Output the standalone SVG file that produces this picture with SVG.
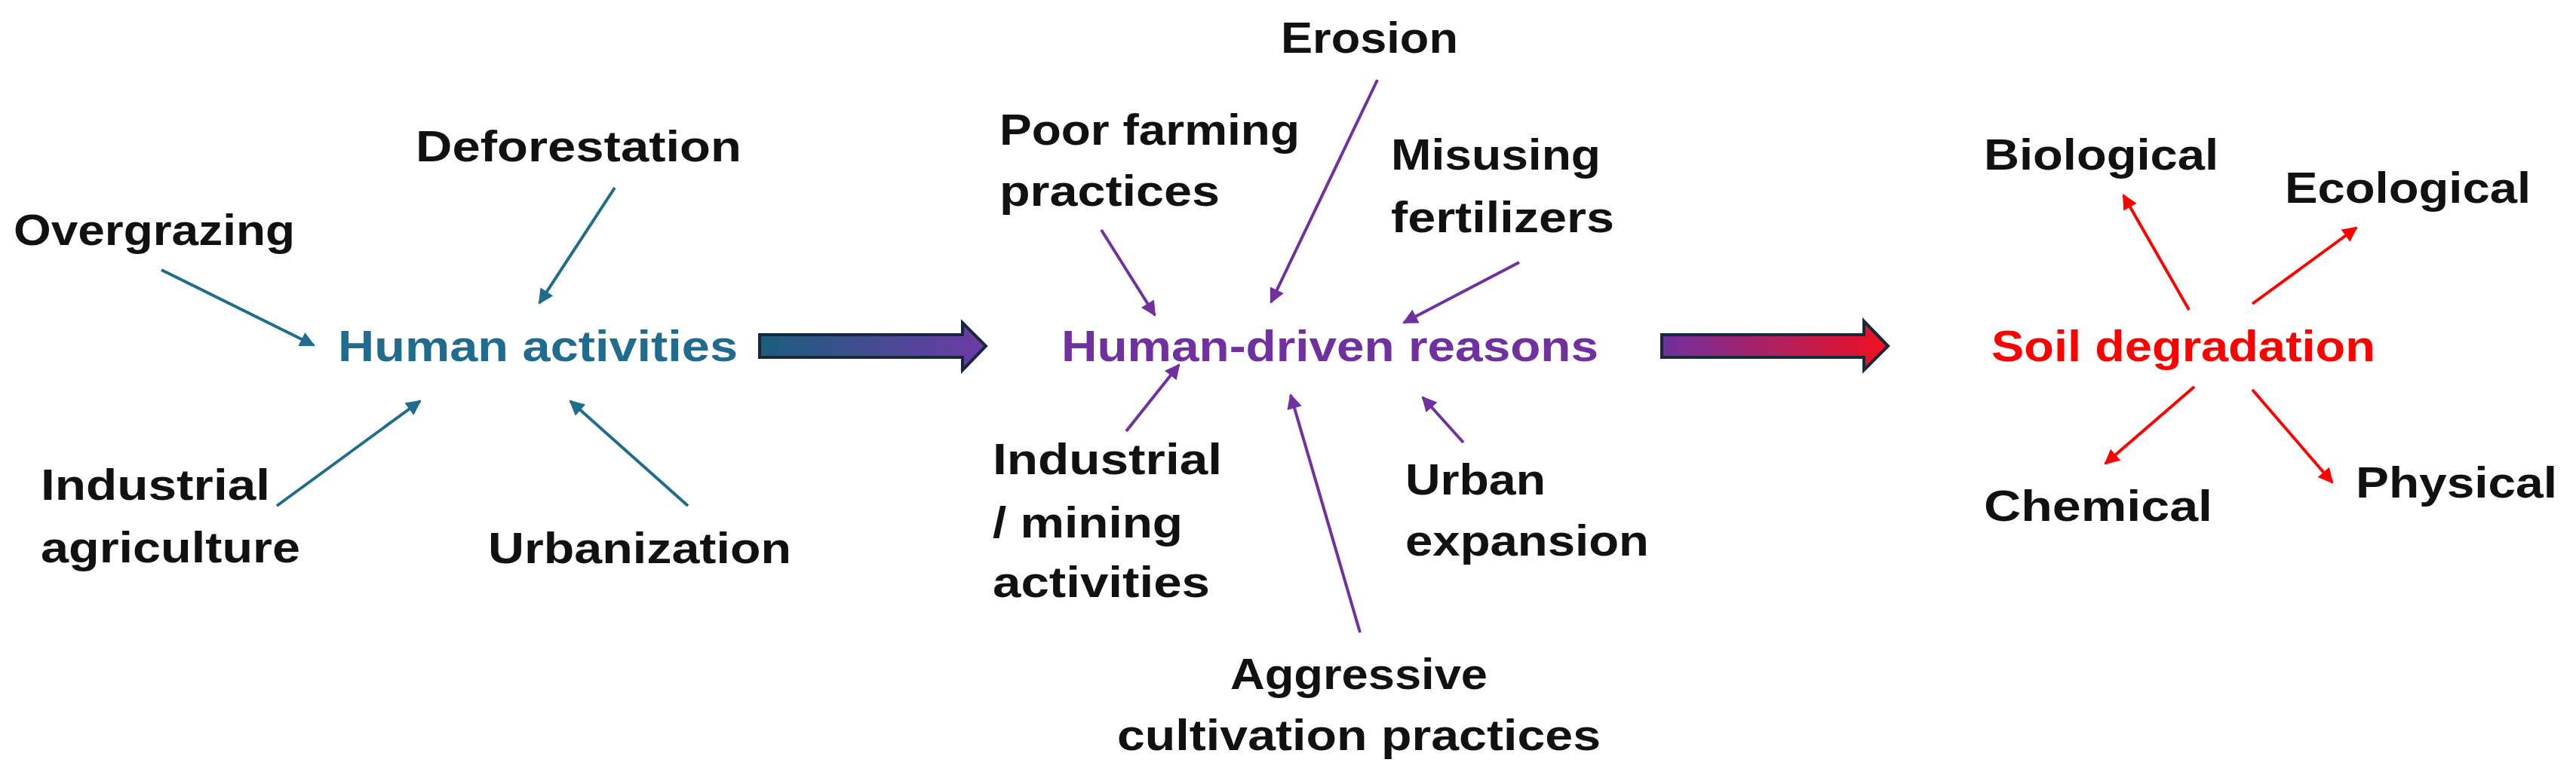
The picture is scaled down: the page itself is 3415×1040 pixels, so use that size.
<svg xmlns="http://www.w3.org/2000/svg" width="3415" height="1040" viewBox="0 0 3415 1040">
<style>
text{font-family:"Liberation Sans",Arial,sans-serif;font-weight:bold;font-size:58px;fill:#111}
.c1{fill:#1F6C8E}.c2{fill:#7030A0}.c3{fill:#FF0000}
.a1{stroke:#1F6C8E;stroke-width:4;fill:none;marker-end:url(#m1)}
.a2{stroke:#7030A0;stroke-width:4;fill:none;marker-end:url(#m2)}
.a3{stroke:#FF0000;stroke-width:4;fill:none;marker-end:url(#m3)}
</style>
<defs>
<marker id="m1" viewBox="0 0 10 10" refX="9" refY="5" markerWidth="24" markerHeight="20" markerUnits="userSpaceOnUse" orient="auto"><path d="M0,0L10,5L0,10z" fill="#1F6C8E"/></marker>
<marker id="m2" viewBox="0 0 10 10" refX="9" refY="5" markerWidth="24" markerHeight="20" markerUnits="userSpaceOnUse" orient="auto"><path d="M0,0L10,5L0,10z" fill="#7030A0"/></marker>
<marker id="m3" viewBox="0 0 10 10" refX="9" refY="5" markerWidth="24" markerHeight="20" markerUnits="userSpaceOnUse" orient="auto"><path d="M0,0L10,5L0,10z" fill="#FF0000"/></marker>
<linearGradient id="g1" x1="0" x2="1" y1="0" y2="0"><stop offset="0" stop-color="#1B5E7E"/><stop offset="1" stop-color="#6E3AA6"/></linearGradient>
<linearGradient id="g2" x1="0" x2="1" y1="0" y2="0"><stop offset="0" stop-color="#7030A0"/><stop offset="1" stop-color="#F0101E"/></linearGradient>
</defs>
<g id="connectors">
<line class="a1" x1="214" y1="358" x2="416" y2="458"/>
<line class="a1" x1="815" y1="249" x2="715" y2="402"/>
<line class="a1" x1="367" y1="671" x2="557" y2="532"/>
<line class="a1" x1="912" y1="671" x2="756" y2="532"/>
<path d="M1007,444H1276V428L1307,459L1276,491V474H1007Z" fill="url(#g1)" stroke="#16283A" stroke-width="4"/>
<line class="a2" x1="1460" y1="305" x2="1531" y2="418"/>
<line class="a2" x1="1826" y1="106" x2="1685" y2="401"/>
<line class="a2" x1="2014" y1="348" x2="1861" y2="428"/>
<line class="a2" x1="1493" y1="572" x2="1563" y2="484"/>
<line class="a2" x1="1803" y1="839" x2="1711" y2="524"/>
<line class="a2" x1="1940" y1="587" x2="1886" y2="527"/>
<path d="M2203,444H2471V426L2503,459L2471,491V474H2203Z" fill="url(#g2)" stroke="#16283A" stroke-width="4"/>
<line class="a3" x1="2902" y1="411" x2="2815" y2="259"/>
<line class="a3" x1="2986" y1="403" x2="3124" y2="302"/>
<line class="a3" x1="2909" y1="513" x2="2791" y2="615"/>
<line class="a3" x1="2986" y1="517" x2="3092" y2="640"/>
</g>
<g id="human-activities"><text class="c1" x="448" y="479" textLength="530" lengthAdjust="spacingAndGlyphs">Human activities</text></g>
<g id="deforestation"><text x="551" y="214" textLength="432" lengthAdjust="spacingAndGlyphs">Deforestation</text></g>
<g id="overgrazing"><text x="18" y="325" textLength="373" lengthAdjust="spacingAndGlyphs">Overgrazing</text></g>
<g id="industrial-agriculture"><text x="54" y="663" textLength="304" lengthAdjust="spacingAndGlyphs">Industrial</text><text x="54" y="746" textLength="344" lengthAdjust="spacingAndGlyphs">agriculture</text></g>
<g id="urbanization"><text x="647" y="747" textLength="402" lengthAdjust="spacingAndGlyphs">Urbanization</text></g>
<g id="human-driven"><text class="c2" x="1407" y="479" textLength="712" lengthAdjust="spacingAndGlyphs">Human-driven reasons</text></g>
<g id="erosion"><text x="1698" y="70" textLength="235" lengthAdjust="spacingAndGlyphs">Erosion</text></g>
<g id="poor-farming"><text x="1325" y="192" textLength="398" lengthAdjust="spacingAndGlyphs">Poor farming</text><text x="1325" y="273" textLength="292" lengthAdjust="spacingAndGlyphs">practices</text></g>
<g id="misusing"><text x="1844" y="225" textLength="278" lengthAdjust="spacingAndGlyphs">Misusing</text><text x="1844" y="308" textLength="296" lengthAdjust="spacingAndGlyphs">fertilizers</text></g>
<g id="industrial-mining"><text x="1316" y="629" textLength="304" lengthAdjust="spacingAndGlyphs">Industrial</text><text x="1316" y="713" textLength="252" lengthAdjust="spacingAndGlyphs">/ mining</text><text x="1316" y="792" textLength="288" lengthAdjust="spacingAndGlyphs">activities</text></g>
<g id="urban-expansion"><text x="1863" y="656" textLength="186" lengthAdjust="spacingAndGlyphs">Urban</text><text x="1863" y="737" textLength="323" lengthAdjust="spacingAndGlyphs">expansion</text></g>
<g id="aggressive"><text x="1631" y="914" textLength="341" lengthAdjust="spacingAndGlyphs">Aggressive</text><text x="1481" y="995" textLength="641" lengthAdjust="spacingAndGlyphs">cultivation practices</text></g>
<g id="soil-degradation"><text class="c3" x="2640" y="479" textLength="509" lengthAdjust="spacingAndGlyphs">Soil degradation</text></g>
<g id="biological"><text x="2630" y="225" textLength="311" lengthAdjust="spacingAndGlyphs">Biological</text></g>
<g id="ecological"><text x="3029" y="269" textLength="326" lengthAdjust="spacingAndGlyphs">Ecological</text></g>
<g id="chemical"><text x="2630" y="691" textLength="303" lengthAdjust="spacingAndGlyphs">Chemical</text></g>
<g id="physical"><text x="3123" y="660" textLength="267" lengthAdjust="spacingAndGlyphs">Physical</text></g>
</svg>
